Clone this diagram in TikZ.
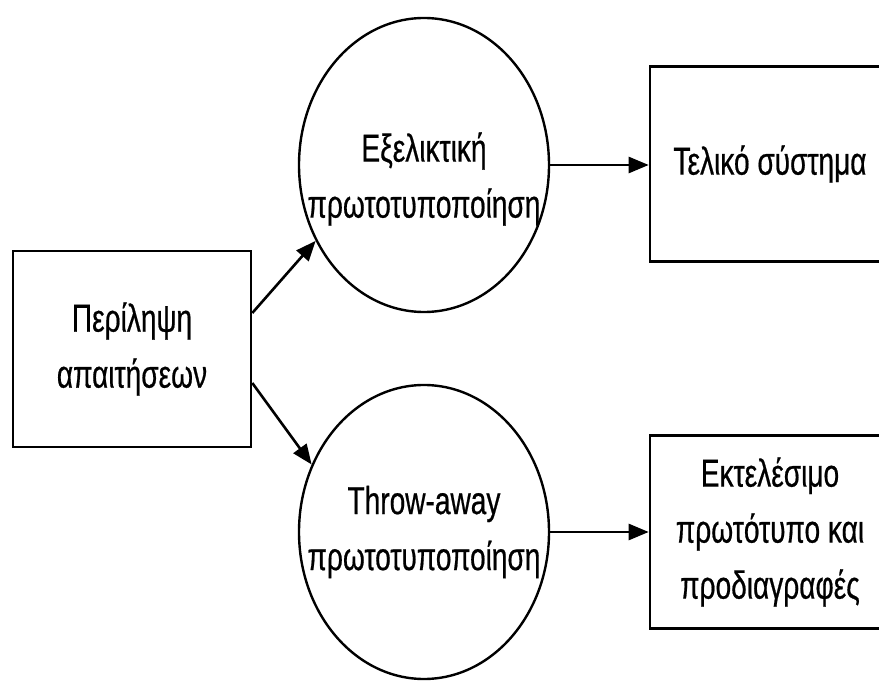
\documentclass[tikz,border=0pt]{standalone}
\usepackage{fontspec}
\setmainfont[FakeStretch=0.72,FakeBold=0.5]{Liberation Sans}
\usetikzlibrary{arrows.meta,shapes.geometric}

\begin{document}
\begin{tikzpicture}[x=1pt,y=-1pt,
    every node/.style={font=\fontsize{39}{56}\selectfont,align=center,inner sep=0pt},
    box/.style={draw,line width=2.6pt,minimum width=240pt},
    proc/.style={draw,ellipse,line width=2.4pt,inner xsep=-30pt,minimum width=250pt,minimum height=294pt},
    flow/.style={-{Triangle[length=20pt,width=16pt]},line width=2.6pt}]
    \clip (0,0) rectangle (879,684);
    \fill[white] (0,0) rectangle (879,684);
    \node[box,minimum width=238pt,minimum height=196pt] (sum) at (132,349) {Περίληψη\\απαιτήσεων};
    \node[proc,label={[yshift=-14pt]center:{Εξελικτική\\πρωτοτυποποίηση}}] (evo) at (424,165) {};
    \node[proc] (throw) at (424,532) {Throw-away\\πρωτοτυποποίηση};
    \node[box,minimum height=195pt] (final) at (770,164) {Τελικό σύστημα};
    \node[box,minimum height=193pt] (spec) at (770,532) {Εκτελέσιμο\\πρωτότυπο και\\προδιαγραφές};
    \draw[flow] ([yshift=36pt]sum.east) -- (evo.215);
    \draw[flow] ([yshift=-34pt]sum.east) -- (throw.149);
    \draw[flow] (evo.east) -- (evo.east -| final.west);
    \draw[flow] (throw.east) -- (throw.east -| spec.west);
\end{tikzpicture}
\end{document}
